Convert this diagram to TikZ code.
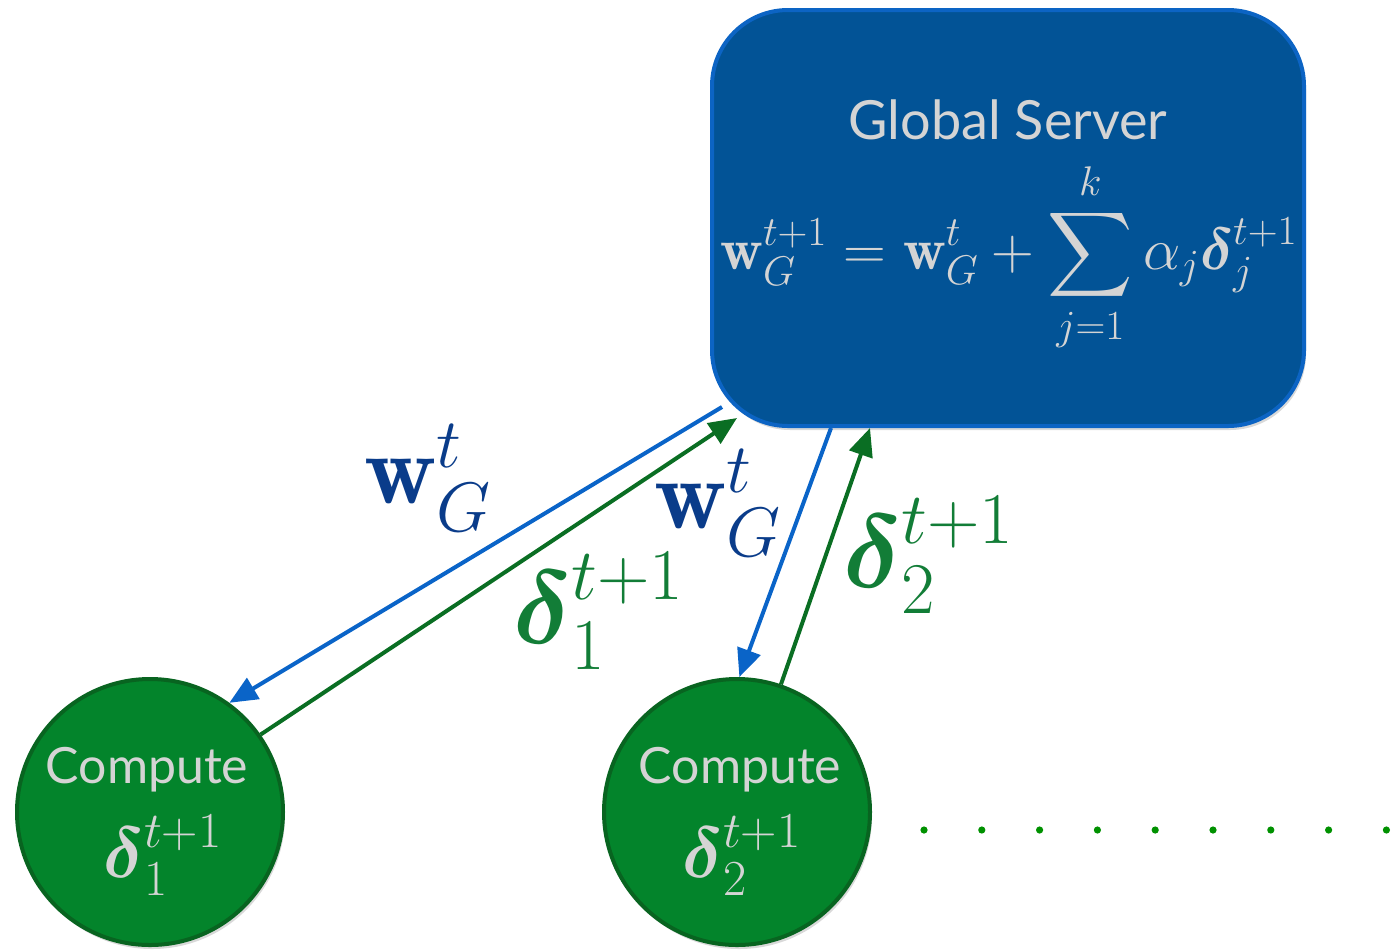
\documentclass[tikz,border=0pt]{standalone}
\usepackage{fix-cm}
\usepackage{amsmath}
\usepackage{amssymb}
\usepackage{fontspec}
\setsansfont{Lato}
\usepackage{tikz}
\usetikzlibrary{arrows.meta,calc,shadows}
\definecolor{serverblue}{RGB}{2,83,150}
\definecolor{serverline}{RGB}{12,100,196}
\definecolor{workergreen}{RGB}{3,132,43}
\definecolor{workerline}{RGB}{8,100,32}
\definecolor{arrowblue}{RGB}{10,100,200}
\definecolor{arrowgreen}{RGB}{10,110,35}
\definecolor{labelblue}{RGB}{10,60,138}
\definecolor{labelgreen}{RGB}{18,125,55}
\definecolor{softgray}{RGB}{212,212,212}
\definecolor{dotgreen}{RGB}{0,145,0}
\tikzset{
    %Define standard arrow tip
    >={Triangle[length=14pt,width=12pt]},
    %Define style for the server box
    serverbox/.style={
           rectangle,
           rounded corners=38pt,
           fill=serverblue,
           draw=serverline, line width=2pt,
           minimum width=296pt,
           minimum height=208pt,
           drop shadow={shadow xshift=1pt,shadow yshift=-2pt,opacity=0.3}},
    %Define style for the workers
    worker/.style={
           circle,
           fill=workergreen,
           draw=workerline, line width=2pt,
           minimum size=133pt,
           inner sep=0pt,
           drop shadow={shadow xshift=1pt,shadow yshift=-2pt,opacity=0.3}},
    softtext/.style={text=softgray, inner sep=0pt},
    % Define arrow styles
    sendw/.style={->, draw=arrowblue, line width=2pt},
    senddelta/.style={->, draw=arrowgreen, line width=2pt},
    wlabel/.style={text=labelblue, font=\fontsize{50}{56}\selectfont},
    dlabel/.style={text=labelgreen, font=\fontsize{52}{58}\selectfont}
}

\begin{document}
\begin{tikzpicture}[x=0.5pt,y=-0.5pt]
\useasboundingbox (0,0) rectangle (1391,949);
 %nodes
\node[serverbox] (server) at (1008,218) {};
\node[worker] (c1) at (150,812) {};
\node[worker] (c2) at (737,812) {};

\node[softtext, font=\sffamily\fontsize{27}{32}\selectfont] (title) at (1008,120) {Global Server};
\node[softtext, font=\fontsize{29.6}{34}\selectfont] (rule) at (1009,257)
    {$\displaystyle \mathbf{w}_G^{t+1} = \mathbf{w}_G^{t} + \sum_{j=1}^{k} \alpha_j \boldsymbol{\delta}_j^{t+1}$};

\node[softtext, font=\sffamily\fontsize{25}{30}\selectfont] (comp1) at (147,770) {Compute};
\node[softtext, font=\fontsize{36}{40}\selectfont] (loc1) at (163,855) {$\boldsymbol{\delta}_1^{t+1}$};
\node[softtext, font=\sffamily\fontsize{25}{30}\selectfont] (comp2) at (740,770) {Compute};
\node[softtext, font=\fontsize{36}{40}\selectfont] (loc2) at (742,855) {$\boldsymbol{\delta}_2^{t+1}$};

 %edges
\draw[sendw] ($(server.south west)+(12,-21)$) -- (c1.54);
\draw[senddelta] (c1.35) -- ($(server.south west)+(27,-10)$);
\draw[sendw] ($(server.south west)+(121,0)$) -- (c2.89);
\draw[senddelta] (c2.71) -- ($(server.south west)+(160,0)$);

\node[wlabel] (w1) at (428,478) {$\mathbf{w}_G^t$};
\node[dlabel] (d1) at (599,611) {$\boldsymbol{\delta}_1^{t+1}$};
\node[wlabel] (w2) at (718,503) {$\mathbf{w}_G^t$};
\node[dlabel] (d2) at (929,555) {$\boldsymbol{\delta}_2^{t+1}$};

\foreach \i in {0,...,8}
    \fill[dotgreen] (924+57.8*\i,830) circle[radius=1.8pt];

\end{tikzpicture}
\end{document}
